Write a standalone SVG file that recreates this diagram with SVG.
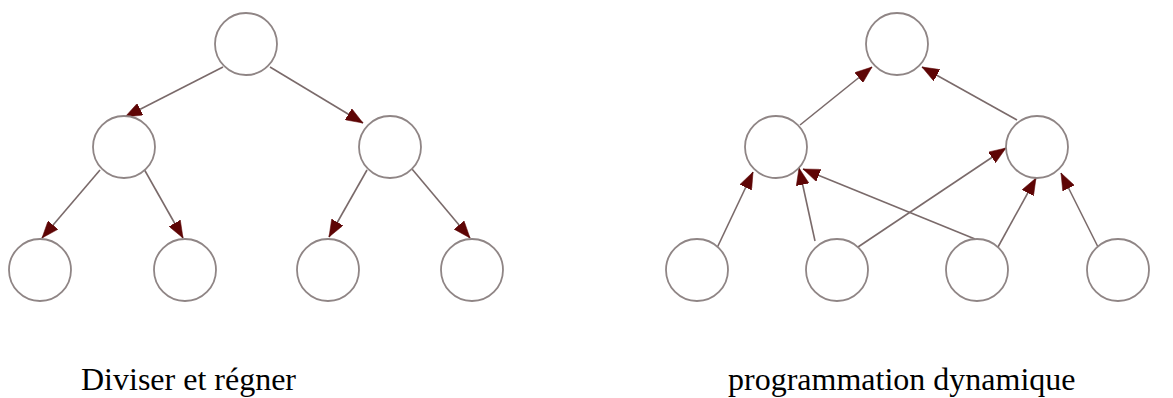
<svg xmlns="http://www.w3.org/2000/svg" width="1173" height="398" viewBox="0 0 1173 398">
<style>
.node{fill:#fff;stroke:#8f8585;stroke-width:1.8}
.edge{stroke:#7a6a6a;stroke-width:1.6;fill:none;marker-end:url(#ah)}
.lbl{font-family:"Liberation Serif","Times New Roman",serif;font-size:32px;fill:#000}
</style>
<defs>
<marker id="ah" markerUnits="userSpaceOnUse" markerWidth="18" markerHeight="13" refX="17" refY="6.5" orient="auto">
<path d="M0,0 L17,6.5 L0,13 z" fill="#5e0505" stroke="#5e0505" stroke-width="0.5"/>
</marker>
</defs>
<rect width="1173" height="398" fill="#fff"/>
<g id="connectors">
<line class="edge" x1="223" y1="67" x2="125" y2="117"/>
<line class="edge" x1="270" y1="67" x2="363" y2="123"/>
<line class="edge" x1="100" y1="170" x2="42" y2="238"/>
<line class="edge" x1="144" y1="169" x2="183" y2="238"/>
<line class="edge" x1="367" y1="170" x2="329" y2="237"/>
<line class="edge" x1="412" y1="169" x2="470" y2="238"/>
<line class="edge" x1="800" y1="125" x2="872" y2="67"/>
<line class="edge" x1="1017" y1="120" x2="922" y2="67"/>
<line class="edge" x1="717" y1="248" x2="753" y2="172"/>
<line class="edge" x1="815" y1="241" x2="799" y2="168"/>
<line class="edge" x1="975" y1="239" x2="803" y2="169"/>
<line class="edge" x1="858" y1="247" x2="1006" y2="148"/>
<line class="edge" x1="998" y1="247" x2="1036" y2="178"/>
<line class="edge" x1="1098" y1="247" x2="1061" y2="173"/>
</g>
<g id="dc-root"><circle class="node" cx="246" cy="44" r="31"/></g>
<g id="dc-ml"><circle class="node" cx="124" cy="147" r="31"/></g>
<g id="dc-mr"><circle class="node" cx="390" cy="147" r="31"/></g>
<g id="dc-l1"><circle class="node" cx="40" cy="270" r="31"/></g>
<g id="dc-l2"><circle class="node" cx="185" cy="270" r="31"/></g>
<g id="dc-l3"><circle class="node" cx="328" cy="270" r="31"/></g>
<g id="dc-l4"><circle class="node" cx="472" cy="270" r="31"/></g>
<g id="dp-root"><circle class="node" cx="897" cy="44" r="31"/></g>
<g id="dp-ml"><circle class="node" cx="776" cy="147" r="31"/></g>
<g id="dp-mr"><circle class="node" cx="1037" cy="147" r="31"/></g>
<g id="dp-l1"><circle class="node" cx="697" cy="270" r="31"/></g>
<g id="dp-l2"><circle class="node" cx="837" cy="270" r="31"/></g>
<g id="dp-l3"><circle class="node" cx="977" cy="270" r="31"/></g>
<g id="dp-l4"><circle class="node" cx="1118" cy="270" r="31"/></g>
<text class="lbl" x="81" y="390">Diviser et régner</text>
<text class="lbl" x="728" y="390">programmation dynamique</text>
</svg>
